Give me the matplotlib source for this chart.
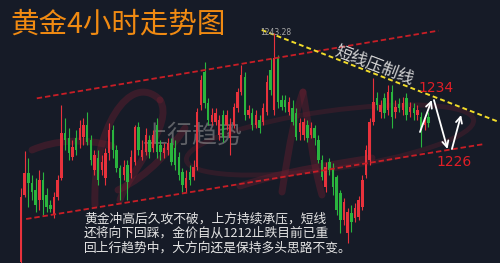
import matplotlib
matplotlib.use("Agg")
import matplotlib.pyplot as plt
from matplotlib.path import Path
from matplotlib.patches import PathPatch, Ellipse

# ---- 4-hour gold candles (USD/oz) ----
opens = [1209.0, 1219.1, 1222.4, 1220.9, 1219.8, 1218.3, 1221.3, 1219.1, 1217.6, 1216.1,
         1218.8, 1221.6, 1228.4, 1227.6, 1224.8, 1227.6, 1227.3, 1227.8, 1229.6, 1227.3,
         1222.8, 1224.6, 1222.8, 1221.6, 1225.4, 1228.8, 1225.8, 1223.1, 1222.1, 1223.6,
         1222.4, 1224.0, 1229.3, 1224.8, 1225.5, 1227.3, 1226.1, 1229.6, 1226.6, 1225.4,
         1225.8, 1226.9, 1226.1, 1224.8, 1222.5, 1220.1, 1222.5, 1221.8, 1223.3, 1232.6,
         1237.5, 1232.9, 1230.0, 1230.0, 1228.1, 1231.1, 1229.6, 1227.6, 1229.6, 1232.1,
         1234.5, 1236.8, 1231.1, 1231.4, 1229.6, 1230.3, 1230.0, 1231.5, 1237.8, 1231.8,
         1239.6, 1233.3, 1233.3, 1231.5, 1232.1, 1231.4, 1228.5, 1228.1, 1229.6, 1228.1,
         1229.1, 1227.3, 1224.3, 1220.3, 1224.0, 1223.1, 1221.8, 1219.4, 1215.3, 1213.4,
         1216.4, 1215.6, 1215.8, 1217.3, 1222.1, 1224.3, 1230.0, 1233.6, 1231.5, 1233.6,
         1231.8, 1234.5, 1231.5, 1232.7, 1231.8, 1233.6, 1231.5, 1232.1, 1231.1, 1230.8,
         1229.6, 1230.8]
highs = [1220.1, 1225.7, 1224.6, 1222.1, 1221.6, 1222.8, 1222.5, 1220.1, 1218.3, 1219.5,
         1222.1, 1232.6, 1230.6, 1229.1, 1227.3, 1228.8, 1230.3, 1230.6, 1231.5, 1228.1,
         1225.8, 1225.8, 1225.1, 1226.1, 1229.9, 1229.6, 1226.6, 1223.6, 1224.3, 1224.3,
         1225.8, 1229.6, 1230.0, 1227.3, 1229.1, 1228.1, 1228.8, 1230.6, 1227.3, 1226.9,
         1227.6, 1227.6, 1227.3, 1225.5, 1223.1, 1222.8, 1223.6, 1224.3, 1232.1, 1237.1,
         1239.0, 1233.6, 1232.1, 1232.1, 1231.1, 1231.8, 1231.8, 1230.6, 1232.9, 1235.1,
         1238.6, 1237.5, 1232.6, 1232.1, 1231.8, 1231.1, 1232.9, 1237.1, 1239.6, 1243.28,
         1240.1, 1234.1, 1234.1, 1233.8, 1233.3, 1232.1, 1230.6, 1230.6, 1230.3, 1230.0,
         1229.6, 1228.1, 1225.1, 1224.0, 1224.6, 1223.9, 1222.1, 1219.8, 1218.6, 1217.1,
         1217.6, 1217.9, 1218.9, 1222.1, 1226.6, 1230.6, 1236.6, 1234.5, 1233.3, 1234.4,
         1235.6, 1235.6, 1233.3, 1233.6, 1233.8, 1234.4, 1233.0, 1232.9, 1232.6, 1231.5,
         1231.1, 1231.5]
lows = [1208.4, 1218.8, 1217.3, 1218.3, 1216.5, 1216.8, 1216.1, 1216.5, 1216.5, 1215.6,
        1218.3, 1221.3, 1225.8, 1224.3, 1224.3, 1225.1, 1226.1, 1226.6, 1226.6, 1223.6,
        1222.1, 1220.6, 1222.1, 1220.6, 1224.3, 1224.6, 1222.5, 1218.3, 1221.3, 1218.3,
        1221.6, 1223.6, 1225.1, 1224.3, 1225.1, 1224.6, 1225.5, 1224.6, 1224.3, 1224.6,
        1225.1, 1223.6, 1222.8, 1221.3, 1219.5, 1219.5, 1220.6, 1221.3, 1222.8, 1231.8,
        1232.1, 1229.6, 1229.6, 1229.6, 1227.3, 1227.0, 1228.8, 1225.1, 1229.1, 1231.5,
        1234.1, 1230.3, 1230.6, 1228.8, 1229.1, 1228.4, 1229.6, 1231.1, 1234.1, 1231.1,
        1232.1, 1231.8, 1231.5, 1231.1, 1229.6, 1227.3, 1227.3, 1227.3, 1227.0, 1227.6,
        1226.6, 1223.9, 1221.3, 1219.5, 1222.1, 1219.1, 1216.1, 1213.4, 1214.6, 1211.9,
        1213.5, 1215.0, 1215.3, 1216.8, 1221.6, 1223.6, 1229.6, 1231.8, 1230.6, 1230.6,
        1231.1, 1229.1, 1230.6, 1231.5, 1231.1, 1230.3, 1230.8, 1230.3, 1230.3, 1226.3,
        1228.8, 1229.3]
closes = [1218.8, 1222.4, 1220.9, 1219.5, 1217.6, 1221.3, 1218.3, 1217.3, 1217.0, 1218.8,
          1221.3, 1228.4, 1227.3, 1225.4, 1226.3, 1225.8, 1229.1, 1229.6, 1227.0, 1224.3,
          1225.1, 1221.3, 1224.0, 1225.4, 1228.8, 1225.8, 1223.1, 1221.6, 1223.3, 1221.0,
          1224.8, 1229.3, 1225.8, 1225.8, 1228.1, 1225.5, 1228.1, 1225.5, 1225.5, 1226.1,
          1226.9, 1224.0, 1223.6, 1222.1, 1220.6, 1221.6, 1221.3, 1223.3, 1231.5, 1236.3,
          1232.9, 1230.3, 1231.1, 1231.4, 1230.3, 1227.8, 1231.1, 1229.6, 1232.3, 1234.5,
          1237.1, 1231.1, 1231.8, 1229.6, 1231.1, 1229.1, 1232.1, 1236.0, 1234.8, 1239.6,
          1233.0, 1232.3, 1232.3, 1233.0, 1230.0, 1227.8, 1229.9, 1230.0, 1227.6, 1229.1,
          1227.6, 1224.3, 1221.8, 1223.3, 1222.8, 1220.3, 1216.8, 1215.3, 1218.0, 1216.5,
          1215.0, 1217.1, 1218.3, 1221.3, 1225.8, 1230.0, 1233.0, 1232.6, 1232.6, 1231.4,
          1234.5, 1230.8, 1232.3, 1232.1, 1232.9, 1231.1, 1232.3, 1231.4, 1231.8, 1228.8,
          1230.6, 1229.9]

# ---- drawn analysis: channel, short-term pressure line, expected swings ----
channel_top_x = [4.3, 113.7]
channel_top_y = [1233.55, 1243.7]
channel_bottom_x = [1.4, 125.7]
channel_bottom_y = [1215.45, 1226.65]
pressure_x = [65.6, 130.0]
pressure_y = [1243.8, 1230.05]
swing_x = [108.7, 111.9, 112.5, 116.2, 117.4, 119.9]
swing_y = [1228.5, 1233.3, 1233.3, 1225.95, 1225.95, 1231.05]
resistance_level = 1234
support_level = 1226

title = "黄金4小时走势图"
pressure_label = "短线压制线"
trend_label = "上行趋势"
comment_lines = ["黄金冲高后久攻不破，上方持续承压，短线",
                 "还将向下回踩，金价自从1212止跌目前已重",
                 "回上行趋势中，大方向还是保持多头思路不变。"]

BG = "#161b27"
UP = "#e8323c"
DOWN = "#2ab53e"
CJK = ["Noto Sans CJK SC", "DejaVu Sans"]

fig = plt.figure(figsize=(5.0, 2.63), dpi=100)
fig.patch.set_facecolor(BG)

# pixel-space layer for decoration and captions
deco = fig.add_axes([0, 0, 1, 1], zorder=0)
deco.set_xlim(0, 500)
deco.set_ylim(263, 0)
deco.axis("off")

# faint brush watermark
wm = dict(color="#6e1f30", alpha=0.4, lw=5, fill=False, capstyle="round")
strokes = [
    [(32, 150), (55, 140), (85, 138), (112, 146)],
    [(95, 205), (92, 130), (130, 70), (160, 100)],
    [(160, 100), (175, 125), (130, 170), (120, 200)],
    [(118, 190), (150, 175), (170, 150), (185, 128)],
    [(282, 192), (290, 140), (296, 110), (303, 92)],
    [(303, 92), (308, 120), (312, 160), (322, 195)],
    [(240, 186), (290, 170), (330, 165), (372, 158)],
]
for pts in strokes:
    path = Path(pts, [Path.MOVETO, Path.CURVE4, Path.CURVE4, Path.CURVE4])
    deco.add_patch(PathPatch(path, **wm))
deco.add_patch(Ellipse((330, 140), 290, 58, angle=-8, fill=False,
                       ec="#6e1f30", lw=3.5, alpha=0.3))

deco.text(10, 25, title, family=CJK, fontsize=20.5, color="#f08a12",
          ha="left", va="center")
deco.text(193, 136, trend_label, family=CJK, fontsize=18, color="#9a9a9a",
          alpha=0.55, ha="center", va="center")
for k, line in enumerate(comment_lines):
    deco.text(84, 219 + 14.5 * k, line, family=CJK, fontsize=9.2,
              color="#e4e4e4", ha="left", va="center")

# price chart
ax = fig.add_axes([0, 0, 1, 1], zorder=1)
ax.patch.set_alpha(0)
ax.set_xlim(-5.72, 130.5)
ax.set_ylim(1208.85, 1248.3)
ax.axis("off")

idx = list(range(len(opens)))
colors = [UP if c >= o else DOWN for o, c in zip(opens, closes)]
ax.vlines(idx, lows, highs, colors=colors, lw=0.8, zorder=3)
bottoms = [min(o, c) for o, c in zip(opens, closes)]
heights = [max(abs(c - o), 0.2) for o, c in zip(opens, closes)]
ax.bar(idx, heights, bottom=bottoms, width=0.66, color=colors, zorder=4)

ax.plot(channel_top_x, channel_top_y, color="#c81e26", lw=1.3,
        dashes=(3, 1.6), zorder=5)
ax.plot(channel_bottom_x, channel_bottom_y, color="#c81e26", lw=1.3,
        dashes=(3, 1.6), zorder=5)
ax.plot(pressure_x, pressure_y, color="#f2dc2a", lw=1.4,
        dashes=(2.5, 1.6), zorder=5)

for k in range(0, len(swing_x), 2):
    ax.annotate("", xy=(swing_x[k + 1], swing_y[k + 1]),
                xytext=(swing_x[k], swing_y[k]),
                arrowprops=dict(arrowstyle="->", color="white", lw=1.3,
                                mutation_scale=11, shrinkA=0, shrinkB=0),
                zorder=6)

peak = max(highs)
peak_i = highs.index(peak)
ax.text(peak_i - 3.9, peak + 0.1, f"{peak:.2f}", fontsize=5.5, color="#a8a8a8",
        ha="left", va="center", zorder=6)
ax.text(113.1, resistance_level + 1.1, str(resistance_level), fontsize=10,
        color="#e01e26", ha="center", va="center", zorder=6)
ax.text(118.0, support_level - 2.0, str(support_level), fontsize=10,
        color="#e01e26", ha="center", va="center", zorder=6)
ax.text(96.3, 1238.6, pressure_label, family=CJK, fontsize=12,
        color="#d6d6d6", rotation=-21, ha="center", va="center",
        rotation_mode="anchor", zorder=6)

fig.savefig("out.png", dpi=100, facecolor=BG)
